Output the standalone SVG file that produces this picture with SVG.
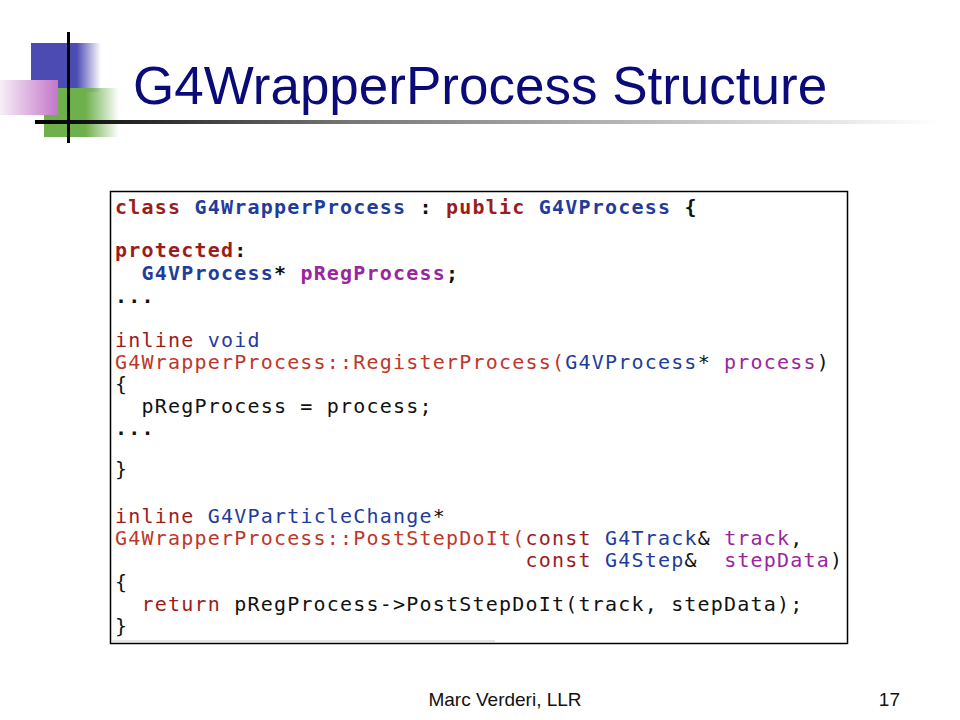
<svg xmlns="http://www.w3.org/2000/svg" width="960" height="720" viewBox="0 0 960 720">
<defs>
<linearGradient id="gBlue" x1="0" y1="0" x2="1" y2="0">
<stop offset="0" stop-color="#4b4bb3"/><stop offset="0.65" stop-color="#4b4bb3"/><stop offset="1" stop-color="#4b4bb3" stop-opacity="0"/>
</linearGradient>
<linearGradient id="gGreen" x1="0" y1="0" x2="1" y2="0">
<stop offset="0" stop-color="#6eb04c"/><stop offset="0.55" stop-color="#6eb04c"/><stop offset="1" stop-color="#6eb04c" stop-opacity="0"/>
</linearGradient>
<linearGradient id="gPink" x1="0" y1="0" x2="1" y2="0">
<stop offset="0" stop-color="#f7eef7"/><stop offset="1" stop-color="#c377c9"/>
</linearGradient>
<linearGradient id="gRule" x1="0" y1="0" x2="1" y2="0">
<stop offset="0" stop-color="#000"/><stop offset="0.35" stop-color="#777"/><stop offset="1" stop-color="#fff"/>
</linearGradient>
<style>
.title{font-family:"Liberation Sans",Arial,sans-serif;font-size:53px;fill:#0a0a78}
.code{font-family:"DejaVu Sans Mono","Liberation Mono",monospace;font-size:20px;letter-spacing:1.2px;fill:#111;white-space:pre}
.b{font-weight:bold}
.kw{fill:#9c1c1c}
.ty{fill:#1f3c9c}
.fn{fill:#c0362a}
.va{fill:#9a259f}
.foot{font-family:"Liberation Sans",Arial,sans-serif;font-size:19px;fill:#111}
</style>
</defs>
<rect width="960" height="720" fill="#fff"/>
<g id="logo">
<rect x="31" y="43" width="70" height="49" fill="url(#gBlue)"/>
<rect x="44" y="88" width="75" height="49" fill="url(#gGreen)"/>
<rect x="0" y="80" width="58" height="35" fill="url(#gPink)"/>
<rect x="35" y="120" width="905" height="4" fill="url(#gRule)"/>
<rect x="67" y="32" width="3" height="111" fill="#000"/>
</g>
<g id="title">
<text class="title" x="133" y="104">G4WrapperProcess Structure</text>
</g>
<g id="code-box">
<rect x="110.5" y="191.5" width="737" height="452" fill="#fff" stroke="#000" stroke-width="1.5"/>
<line x1="112" y1="641" x2="495" y2="641" stroke="#e4e4e4" stroke-width="2"/>
<text class="code b" x="115" y="214"><tspan class="kw">class</tspan> <tspan class="ty">G4WrapperProcess</tspan> : <tspan class="kw">public</tspan> <tspan class="ty">G4VProcess</tspan> {</text>
<text class="code b" x="115" y="257"><tspan class="kw">protected</tspan>:</text>
<text class="code b" x="115" y="280">  <tspan class="ty">G4VProcess</tspan>* <tspan class="va">pRegProcess</tspan>;</text>
<text class="code b" x="115" y="303">...</text>
<text class="code" x="115" y="347"><tspan class="kw">inline</tspan> <tspan class="ty">void</tspan></text>
<text class="code" x="115" y="369"><tspan class="fn">G4WrapperProcess::RegisterProcess(</tspan><tspan class="ty">G4VProcess</tspan>* <tspan class="va">process</tspan>)</text>
<text class="code" x="115" y="391">{</text>
<text class="code" x="115" y="413">  pRegProcess = process;</text>
<text class="code b" x="115" y="435">...</text>
<text class="code" x="115" y="476">}</text>
<text class="code" x="115" y="523"><tspan class="kw">inline</tspan> <tspan class="ty">G4VParticleChange</tspan>*</text>
<text class="code" x="115" y="545"><tspan class="fn">G4WrapperProcess::PostStepDoIt(</tspan><tspan class="kw">const</tspan> <tspan class="ty">G4Track</tspan>&amp; <tspan class="va">track</tspan>,</text>
<text class="code" x="115" y="567">                               <tspan class="kw">const</tspan> <tspan class="ty">G4Step</tspan>&amp;  <tspan class="va">stepData</tspan>)</text>
<text class="code" x="115" y="589">{</text>
<text class="code" x="115" y="611">  <tspan class="kw">return</tspan> pRegProcess-&gt;PostStepDoIt(track, stepData);</text>
<text class="code" x="115" y="633">}</text>
</g>
<g id="footer">
<text class="foot" x="505" y="706" text-anchor="middle">Marc Verderi, LLR</text>
<text class="foot" x="900" y="706" text-anchor="end">17</text>
</g>
</svg>
